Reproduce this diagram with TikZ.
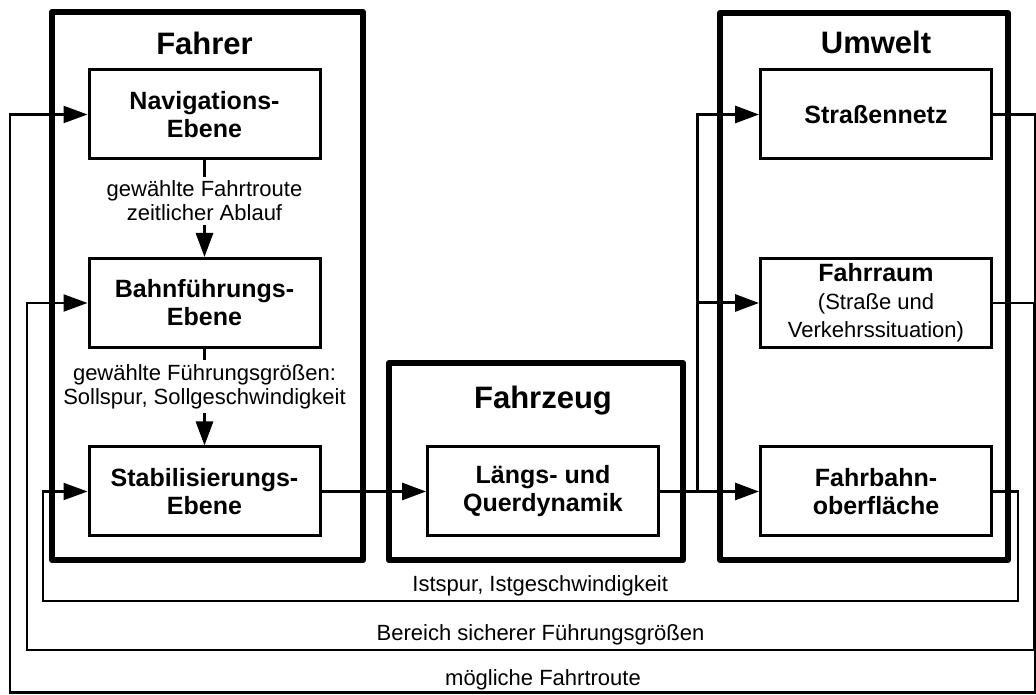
\documentclass[tikz,border=0pt]{standalone}
\usepackage{fontspec}
\setmainfont{Liberation Sans}
\usetikzlibrary{arrows.meta, positioning}
\tikzstyle{outerBox} = [draw, rectangle, line width=6pt, line join=round, inner sep=0pt]
\tikzstyle{levelBox} = [draw, rectangle, line width=3pt, inner sep=0pt,
   minimum width=231pt, minimum height=89pt, align=center,
   font=\fontsize{25}{28}\selectfont\bfseries]
\tikzstyle{boxTitle} = [font=\fontsize{31}{34}\selectfont\bfseries]
\tikzstyle{sigLabel} = [align=center, font=\fontsize{22}{24}\selectfont]
\tikzstyle{sigArrow} = [line width=3pt, -{Triangle[length=24pt,width=17pt]}]
\tikzstyle{loopArrow} = [line width=2.2pt, -{Triangle[length=24pt,width=17pt]}]
\newcommand{\plainTxt}[1]{{\mdseries\fontsize{22}{27}\selectfont #1}}

\begin{document}
\begin{tikzpicture}[x=1pt, y=1pt, node distance=188.5pt]
	  \useasboundingbox (0,0) rectangle (1036,695);

	  % outer frames
	  \node[outerBox, minimum width=311pt, minimum height=548pt] (fahrer) at (207.5,409) {};
	  \node[outerBox, minimum width=294pt, minimum height=197pt] (fahrzeug) at (536,233.5) {};
	  \node[outerBox, minimum width=288pt, minimum height=547pt] (umwelt) at (864,408.5) {};

	  \node[levelBox] (nav) at (204.5,580.5) {Navigations-\\Ebene};
	  \node[levelBox, below of=nav] (bahn) {Bahnführungs-\\Ebene};
	  \node[levelBox, below of=bahn] (stab) {Stabilisierungs-\\Ebene};
	  \node[levelBox, right of=stab, node distance=338.5pt] (dyn) {Längs- und\\Querdynamik};
	  \node[levelBox, right of=dyn, node distance=333pt] (ober) {Fahrbahn-\\oberfläche};
	  \node[levelBox, above of=ober] (raum) {Fahrraum\\\plainTxt{(Straße und}\\\plainTxt{Verkehrssituation)}};
	  \node[levelBox, above of=raum] (netz) {Straßennetz};

	  \node[boxTitle, above of=nav, node distance=71.5pt] (tFahrer) {Fahrer};
	  \node[boxTitle, above of=dyn, node distance=90.5pt] (tFahrzeug) {Fahrzeug};
	  \node[boxTitle, above of=netz, node distance=72.5pt] (tUmwelt) {Umwelt};

	  % signal flow
	  \draw[sigArrow] (nav) -- node[sigLabel, fill=white, inner sep=4pt, pos=0.42] {gewählte Fahrtroute\\zeitlicher Ablauf} (bahn);
	  \draw[sigArrow] (bahn) -- node[sigLabel, fill=white, inner sep=4pt, pos=0.39] {gewählte Führungsgrößen:\\Sollspur, Sollgeschwindigkeit} (stab);
	  \draw[sigArrow] (stab) -- (dyn);
	  \draw[sigArrow] (dyn) -- (ober);
	  \coordinate (bus) at (697,202.5);
	  \draw[sigArrow] (bus) |- (raum);
	  \draw[sigArrow] (bus) |- (netz);

	  % feedback loops
	  \coordinate (istR) at (1018,94);
	  \coordinate (istL) at (43,94);
	  \draw[loopArrow] (ober) -| (istR) -- node[sigLabel, above, pos=0.49] {Istspur, Istgeschwindigkeit} (istL) |- (stab);
	  \coordinate (berR) at (1034,45);
	  \coordinate (berL) at (27,45);
	  \draw[loopArrow] (raum) -| (berR) -- node[sigLabel, above, pos=0.49] {Bereich sicherer Führungsgrößen} (berL) |- (bahn);
	  \coordinate (rouR) at (1035,2.5);
	  \coordinate (rouL) at (10,2.5);
	  \draw[loopArrow] (netz) -| (rouR) -- node[sigLabel, above, pos=0.48, inner sep=1pt] {mögliche Fahrtroute} (rouL) |- (nav);
	\end{tikzpicture}
\end{document}
